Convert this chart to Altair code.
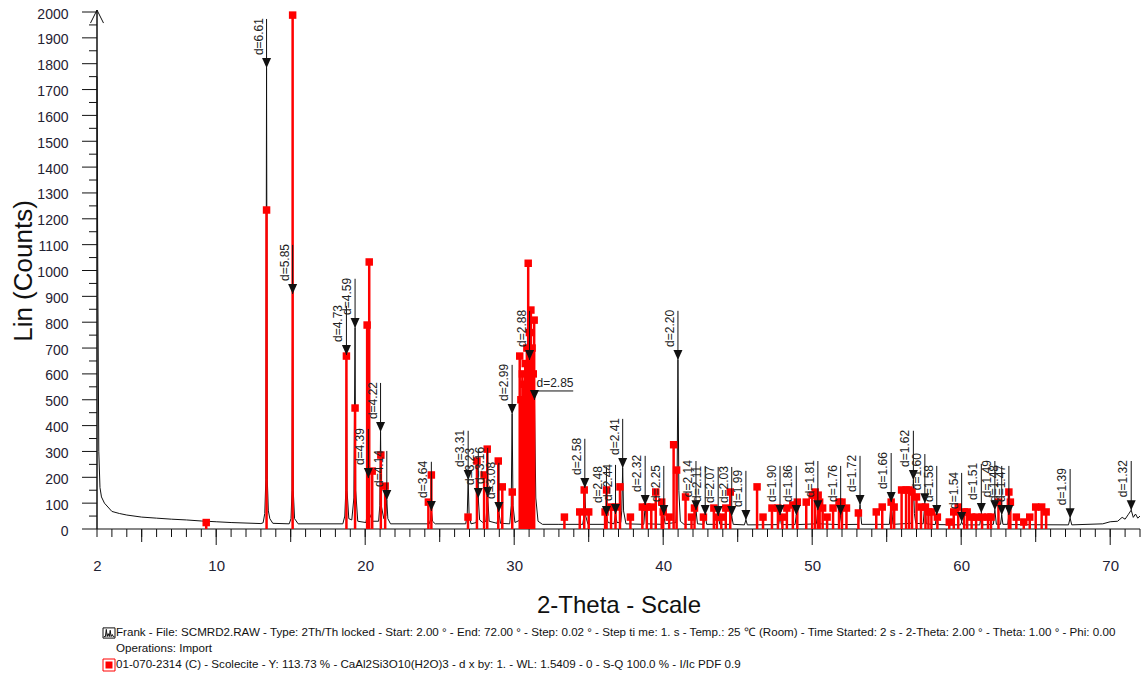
import altair as alt
import pandas as pd

# ---------------- data ----------------
# measured pattern (2-theta, counts)
pattern_points = [
    (2.00, 1750), (2.06, 900), (2.12, 300), (2.20, 160), (2.30, 124), (2.50, 100), (3.00, 68), (3.50, 60),
    (4.00, 54), (5.00, 46), (6.00, 42), (7.00, 38), (8.00, 35), (9.00, 31), (10.00, 28), (11.00, 25),
    (12.00, 23), (13.00, 21),
    (13.15, 24), (13.26, 60), (13.33, 190), (13.38, 1783), (13.43, 190), (13.50, 70), (13.60, 40), (13.80, 22),
    (14.90, 20), (15.02, 40), (15.09, 150), (15.13, 909), (15.17, 150), (15.26, 40), (15.50, 20),
    (18.50, 20), (18.63, 50), (18.70, 150), (18.74, 673), (18.78, 150), (18.90, 40), (19.10, 35),
    (19.24, 120), (19.32, 778), (19.36, 150), (19.50, 30),
    (20.05, 25), (20.15, 60), (20.21, 197), (20.28, 60), (20.50, 30), (20.90, 30), (20.98, 90), (21.03, 375),
    (21.08, 90), (21.25, 40), (21.38, 50), (21.45, 112), (21.52, 40), (21.70, 20),
    (24.30, 20), (24.38, 35), (24.44, 70), (24.52, 30), (24.70, 20),
    (26.75, 20), (26.85, 60), (26.91, 190), (26.97, 60), (27.10, 20), (27.45, 25), (27.59, 120), (27.68, 35),
    (27.90, 25), (28.10, 30), (28.22, 124), (28.32, 30), (28.85, 22), (28.97, 66), (29.08, 22),
    (29.70, 20), (29.80, 90), (29.86, 445), (29.92, 90), (30.05, 25), (30.40, 35), (30.70, 120), (30.92, 300),
    (31.03, 654), (31.12, 250), (31.25, 200), (31.36, 499), (31.45, 120), (31.60, 30), (31.90, 18),
    (33.00, 18), (34.60, 18), (34.68, 50), (34.74, 159), (34.80, 50), (34.95, 18),
    (36.10, 18), (36.19, 50), (36.30, 25), (36.70, 20), (36.80, 58), (36.90, 25), (37.15, 25), (37.22, 70),
    (37.28, 236), (37.34, 70), (37.50, 20),
    (38.70, 18), (38.79, 93), (38.88, 20), (39.95, 18), (40.04, 54), (40.13, 20), (40.85, 25), (40.93, 150),
    (40.99, 654), (41.05, 150), (41.15, 30), (41.40, 18),
    (42.10, 18), (42.20, 73), (42.30, 20), (42.72, 18), (42.82, 54), (42.92, 18), (43.60, 18), (43.69, 50),
    (43.80, 18), (44.50, 18), (44.60, 50), (44.70, 18), (45.45, 16), (45.55, 35), (45.65, 16),
    (47.75, 17), (47.84, 54), (47.93, 17), (48.85, 17), (48.93, 54), (49.02, 17), (50.28, 20), (50.38, 73),
    (50.48, 20), (51.82, 17), (51.91, 54), (52.00, 17), (53.10, 18), (53.21, 93), (53.32, 18),
    (55.18, 18), (55.30, 104), (55.42, 18), (56.65, 22), (56.72, 60), (56.79, 190), (56.86, 60), (56.95, 22),
    (57.45, 20), (57.56, 100), (57.66, 20), (58.26, 17), (58.36, 54), (58.46, 17),
    (59.95, 16), (60.03, 27), (60.12, 16), (61.25, 16), (61.35, 62), (61.45, 16), (62.16, 18), (62.26, 73),
    (62.36, 18), (62.64, 18), (62.72, 54), (62.80, 18), (63.12, 18), (63.20, 54), (63.30, 17),
    (67.20, 16), (67.31, 42), (67.42, 16), (69.50, 20), (70.00, 28), (70.50, 30), (70.80, 45), (71.00, 38),
    (71.20, 55), (71.41, 73), (71.55, 45), (71.70, 58), (71.85, 42), (72.00, 50),
]

# reference pattern 01-070-2314 Scolecite (2-theta, scaled counts)
reference_sticks = [
    (9.33, 25), (13.38, 1234), (15.13, 1988), (18.74, 669), (19.32, 468), (20.13, 789), (20.27, 1033),
    (20.47, 224), (21.05, 286), (21.34, 166), (24.24, 104), (24.44, 209), (26.90, 46), (27.50, 263),
    (27.98, 209), (28.19, 309), (28.93, 263), (29.20, 163), (29.87, 143),
    (30.37, 669), (30.45, 500), (30.55, 600), (30.65, 560), (30.74, 640), (30.85, 700), (30.94, 1028),
    (31.02, 760), (31.12, 847), (31.20, 700), (31.28, 600), (31.34, 808),
    (33.37, 46), (34.40, 66), (34.70, 151), (35.00, 66), (36.10, 66), (36.20, 151), (36.50, 85), (36.80, 85),
    (37.10, 163), (37.80, 46), (38.60, 85), (38.90, 85), (39.20, 85), (39.50, 143), (39.90, 104), (40.00, 66),
    (40.40, 46), (40.70, 326), (40.90, 228), (41.50, 124), (41.90, 46), (42.10, 81), (42.70, 46), (43.40, 81),
    (43.60, 46), (43.90, 46), (44.20, 81), (44.50, 143), (46.30, 163), (46.70, 46), (47.30, 81), (47.70, 81),
    (48.00, 46), (48.30, 81), (48.70, 93), (49.00, 104), (49.60, 104), (50.00, 131), (50.20, 143), (50.40, 131),
    (50.50, 104), (50.70, 81), (51.00, 46), (51.40, 81), (51.80, 104), (52.00, 104), (52.30, 81), (53.10, 62),
    (54.30, 66), (54.70, 85), (55.30, 104), (55.50, 85), (56.00, 151), (56.30, 151), (56.50, 151), (56.70, 143),
    (57.00, 124), (57.30, 85), (57.60, 85), (57.80, 66), (58.00, 66), (58.40, 46), (59.20, 27), (59.50, 66),
    (59.80, 85), (60.20, 66), (60.40, 66), (60.70, 46), (61.00, 46), (61.40, 46), (61.80, 46), (62.00, 46),
    (62.50, 104), (63.20, 143), (63.30, 104), (63.70, 46), (64.20, 27), (64.60, 46), (65.00, 85), (65.40, 85),
    (65.70, 66),
]

# d-spacing markers
peak_labels = ["d=6.61", "d=5.85", "d=4.73", "d=4.59", "d=4.39", "d=4.22", "d=4.14", "d=3.64", "d=3.31",
               "d=3.23", "d=3.16", "d=3.08", "d=2.99", "d=2.88", "d=2.85", "d=2.58", "d=2.48", "d=2.44",
               "d=2.41", "d=2.32", "d=2.25", "d=2.20", "d=2.14", "d=2.11", "d=2.07", "d=2.03", "d=1.99",
               "d=1.90", "d=1.86", "d=1.81", "d=1.76", "d=1.72", "d=1.66", "d=1.62", "d=1.60", "d=1.58",
               "d=1.54", "d=1.51", "d=1.49", "d=1.48", "d=1.47", "d=1.39", "d=1.32"]
peak_two_theta = [13.38, 15.13, 18.74, 19.32, 20.21, 21.03, 21.45, 24.44, 26.91,
                  27.59, 28.22, 28.97, 29.86, 31.03, 31.36, 34.74, 36.19, 36.80,
                  37.28, 38.79, 40.04, 40.99, 42.20, 42.82, 43.69, 44.60, 45.55,
                  47.84, 48.93, 50.38, 51.91, 53.21, 55.30, 56.79, 57.56, 58.36,
                  60.03, 61.35, 62.26, 62.72, 63.20, 67.31, 71.41]
peak_counts = [1783, 909, 673, 778, 197, 375, 112, 70, 190,
               120, 124, 66, 445, 654, 499, 159, 50, 58,
               236, 93, 54, 654, 73, 54, 50, 50, 35,
               54, 54, 73, 54, 93, 104, 190, 100, 54,
               27, 62, 73, 54, 54, 42, 73]

legend_lines = [
    "Frank - File: SCMRD2.RAW - Type: 2Th/Th locked - Start: 2.00 \u00b0 - End: 72.00 \u00b0 - Step: 0.02 \u00b0 - Step ti  me: 1. s - Temp.: 25 \u2103 (Room) - Time Started: 2 s  - 2-Theta: 2.00 \u00b0 - Theta: 1.00 \u00b0 - Phi: 0.00",
    "Operations: Import",
    "01-070-2314 (C) - Scolecite - Y: 113.73 % - CaAl2Si3O10(H2O)3 - d x by: 1. - WL: 1.5409 - 0 - S-Q 100.0 % - I/Ic PDF 0.9",
]

x_labels = [2, 10, 20, 30, 40, 50, 60, 70]
x_major = [10, 20, 30, 40, 50, 60, 70]
x_mid = [5, 15, 25, 35, 45, 55, 65]
x_minor = list(range(2, 73))
y_major = list(range(0, 2001, 100))
y_minor = list(range(50, 2000, 100))

# ---------------- chart ----------------
W, H = 1043, 517
FONT = "Liberation Sans"
RED = "#ff0000"
INK = "#111111"
LABEL_COLOR = "#1f2233"

pattern_df = pd.DataFrame(pattern_points, columns=["tt", "c"])
ref_df = pd.DataFrame(reference_sticks, columns=["tt", "c"])
peak_df = pd.DataFrame({"tt": peak_two_theta, "c": peak_counts, "d": peak_labels})

xs = alt.Scale(domain=[2, 72], nice=False, zero=False)
ys = alt.Scale(domain=[0, 2000], nice=False, zero=False)

x_axis = alt.Axis(orient="bottom", values=x_labels, ticks=False, tickSize=0, domain=False, grid=False,
                  labelPadding=29, labelFontSize=15, labelFont=FONT, labelColor=LABEL_COLOR,
                  labelFlush=False, labelOverlap=False,
                  title="2-Theta - Scale", titleFont=FONT, titleFontSize=24, titleFontWeight="normal",
                  titleColor=INK, titleX=W / 2, titleY=76, titleBaseline="middle", titleAlign="center")
y_axis = alt.Axis(orient="left", values=y_major, format="d", ticks=False, tickSize=0, domain=False,
                  grid=False, labelPadding=29, labelFontSize=14, labelFont=FONT, labelColor=LABEL_COLOR,
                  labelOffset=2,
                  title="Lin (Counts)", titleFont=FONT, titleFontSize=26, titleFontWeight="normal",
                  titleColor=INK, titleAngle=270, titleX=-74, titleY=H / 2, titleAlign="center",
                  titleBaseline="middle")


def X(field):
    return alt.X(field, scale=xs, axis=x_axis)


def Y(field):
    return alt.Y(field, scale=ys, axis=y_axis)


pattern = alt.Chart(pattern_df).mark_line(color=INK, strokeWidth=1).encode(x=X("tt:Q"), y=Y("c:Q"))


# --- tick marks and axis lines drawn from the tick value lists ---
def x_ticks(vals, length):
    return alt.Chart(pd.DataFrame({"tt": vals})).mark_rule(color=INK, strokeWidth=1).encode(
        x=X("tt:Q"), y=alt.value(H), y2=alt.value(H + length))


def y_ticks(vals, length):
    return alt.Chart(pd.DataFrame({"c": vals})).mark_rule(color=INK, strokeWidth=1).encode(
        y=Y("c:Q"), x=alt.value(0), x2=alt.value(-length))


one = pd.DataFrame({"k": [0]})
x_domain = alt.Chart(one).mark_rule(color=INK, strokeWidth=1.2).encode(
    x=alt.value(0), x2=alt.value(W), y=alt.value(H))
y_domain = alt.Chart(one).mark_rule(color=INK, strokeWidth=1.5).encode(
    x=alt.value(0), y=alt.value(H), y2=alt.value(-2))
axis_arrow = alt.Chart(one).mark_point(
    shape="M-1,1.7L0,-0.3L1,1.7", size=169, filled=False, color=INK, strokeWidth=1, opacity=1).encode(
    x=alt.value(0), y=alt.value(0))

ref_rules = alt.Chart(ref_df).transform_calculate(base="0").mark_rule(
    color=RED, strokeWidth=2.5).encode(x=X("tt:Q"), y=Y("c:Q"), y2="base:Q")

ref_squares = alt.Chart(ref_df).mark_square(color=RED, size=56, opacity=1).encode(
    x=X("tt:Q"), y=Y("c:Q"))

vert = peak_df[peak_df["d"] != "d=2.85"]
horiz = peak_df[peak_df["d"] == "d=2.85"]

ann_rules = alt.Chart(vert).transform_calculate(top="datum.c + 190").mark_rule(
    color=INK, strokeWidth=1).encode(x=X("tt:Q"), y=Y("c:Q"), y2="top:Q")

arrow_shape = "M-0.45,-1L0.45,-1L0,0Z"
arrows = alt.Chart(peak_df).mark_point(shape=arrow_shape, size=400, filled=True,
                                       color=INK, opacity=1).encode(x=X("tt:Q"), y=Y("c:Q"))

ann_text = alt.Chart(vert).mark_text(angle=270, align="left", baseline="bottom", dx=13, dy=-1,
                                     font=FONT, fontSize=12, color="#222222").encode(
    x=X("tt:Q"), y=Y("c:Q"), text="d:N")

h_stem = alt.Chart(horiz).transform_calculate(ul="datum.c + 35").mark_rule(
    color=INK, strokeWidth=1).encode(x=X("tt:Q"), y=Y("c:Q"), y2="ul:Q")
h_under = alt.Chart(horiz).transform_calculate(c2="datum.c + 35", xe="datum.tt + 2.6").mark_rule(
    color=INK, strokeWidth=1).encode(x=X("tt:Q"), x2="xe:Q", y=Y("c2:Q"))
h_text = alt.Chart(horiz).transform_calculate(c2="datum.c + 35").mark_text(
    align="left", baseline="bottom", dx=2, dy=-1, font=FONT, fontSize=12, color="#222222").encode(
    x=X("tt:Q"), y=Y("c2:Q"), text="d:N")

# legend block under the plot
leg_df = pd.DataFrame({"t": legend_lines, "row": [0, 1, 2]})
leg_y = {0: H + 104, 1: H + 120, 2: H + 136}
legend_text = []
for r in range(3):
    legend_text.append(
        alt.Chart(leg_df[leg_df["row"] == r]).mark_text(
            align="left", baseline="middle", font=FONT, fontSize=11.6, color=INK).encode(
            text="t:N", x=alt.value(19), y=alt.value(leg_y[r]))
    )

icon1 = alt.Chart(one).mark_point(
    shape="M-1,-0.85H1V0.85H-1Z M-0.85,0.6L-0.6,0.6L-0.45,-0.6L-0.3,0.6L-0.15,0.1L0.05,0.6L0.2,-0.45L0.35,0.6L0.55,0.25L0.7,0.6L0.9,0.6",
    size=144, filled=False, color=INK, strokeWidth=1, opacity=1).encode(
    x=alt.value(12), y=alt.value(leg_y[0]))
icon2a = alt.Chart(one).mark_point(
    shape="M-1,-1H1V1H-1Z", size=144, filled=False, color=RED, strokeWidth=1, opacity=1).encode(
    x=alt.value(12), y=alt.value(leg_y[2]))
icon2b = alt.Chart(one).mark_square(size=49, color=RED, opacity=1).encode(
    x=alt.value(12), y=alt.value(leg_y[2]))

chart = alt.layer(
    pattern,
    x_ticks(x_minor, 8), x_ticks(x_mid, 13), x_ticks(x_major, 16),
    y_ticks(y_minor, 8), y_ticks(y_major, 15),
    x_domain, y_domain, axis_arrow,
    ref_rules, ref_squares, ann_rules, arrows, ann_text, h_stem, h_under, h_text,
    *legend_text, icon1, icon2a, icon2b,
).properties(
    width=W, height=H,
    autosize=alt.AutoSizeParams(type="none"),
    padding={"left": 97, "top": 12, "right": 3, "bottom": 148},
    background="white",
).configure_view(stroke=None)

chart.save("out.html", embed_options={"renderer": "svg", "actions": False})
